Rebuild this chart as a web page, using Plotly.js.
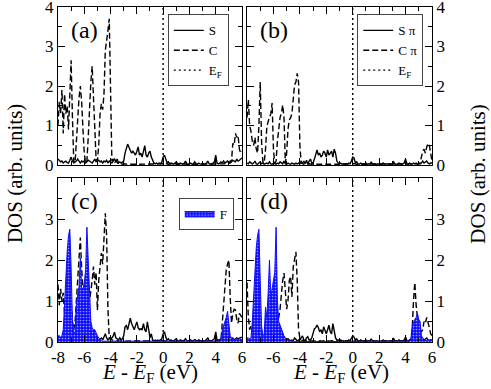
<!DOCTYPE html>
<html>
<head>
<meta charset="utf-8">
<script src="https://cdn.plot.ly/plotly-3.0.1.min.js"></script>
<style>
  html, body { margin: 0; padding: 0; background: #fff; }
  #chart { width: 491px; height: 389px; }
</style>
</head>
<body>
<div id="chart"></div>
<script>
// energy grid: -8 eV to 6 eV in 0.1 eV steps (141 points per curve)
const energyStart = -8;
const energyStep = 0.1;
const energyRange = [-8, 6];
const dosRange = [0, 4];
const fermiLevel = 0;

const xTickVals = [-8, -6, -4, -2, 0, 2, 4, 6];
const xTickText = ['-8', '-6', '-4', '-2', '0', '2', '4', '6'];
const yTickValsTop = [0, 1, 2, 3, 4];
const yTickValsBottom = [0, 1, 2, 3];

// panel (a): S and C total DOS
const dosS_a = [
  0.15,0.10,0.08,0.10,0.05,0.08,0.10,0.06,0.05,0.12,
  0.20,0.10,0.05,0.08,0.10,0.15,0.08,0.05,0.10,0.08,
  0.10,0.05,0.08,0.12,0.10,0.08,0.05,0.10,0.15,0.08,
  0.10,0.12,0.08,0.10,0.05,0.10,0.08,0.12,0.05,0.10,
  0.08,0.05,0.10,0.15,0.10,0.15,0.05,0.08,0.05,0.08,
  0.10,0.30,0.45,0.53,0.45,0.35,0.30,0.35,0.30,0.25,
  0.35,0.46,0.25,0.30,0.20,0.40,0.49,0.25,0.20,0.30,
  0.35,0.20,0.10,0.05,0.03,0.05,0.03,0.05,0.03,0.08,
  0.20,0.25,0.15,0.05,0.08,0.03,0.05,0.03,0.02,0.05,
  0.08,0.03,0.02,0.05,0.03,0.02,0.04,0.10,0.03,0.02,
  0.03,0.05,0.02,0.03,0.08,0.03,0.02,0.05,0.03,0.02,
  0.04,0.02,0.03,0.05,0.10,0.03,0.02,0.03,0.05,0.08,
  0.25,0.05,0.03,0.05,0.08,0.05,0.10,0.05,0.08,0.10,
  0.05,0.10,0.08,0.12,0.10,0.08,0.15,0.10,0.12,0.15,
  0.18
];
const dosC_a = [
  1.00,1.60,1.30,1.90,0.80,1.80,1.30,1.50,0.90,1.60,
  2.65,1.20,0.10,0.05,0.60,1.30,1.70,2.00,1.60,0.90,
  0.30,0.05,0.10,0.70,1.50,2.10,2.50,1.60,0.60,0.15,
  0.10,0.50,1.30,1.55,1.40,1.80,2.90,3.10,3.40,3.70,
  1.50,0.10,0.15,0.05,0.10,0.05,0.03,0.04,0.03,0.02,
  0.03,0.02,0.03,0.02,0.02,0.03,0.02,0.02,0.03,0.02,
  0.02,0.03,0.02,0.02,0.03,0.02,0.02,0.03,0.02,0.02,
  0.02,0.02,0.03,0.02,0.02,0.02,0.03,0.02,0.02,0.03,
  0.05,0.04,0.03,0.02,0.02,0.03,0.02,0.02,0.02,0.03,
  0.02,0.02,0.03,0.02,0.02,0.02,0.03,0.02,0.02,0.02,
  0.03,0.02,0.02,0.02,0.03,0.02,0.02,0.02,0.03,0.02,
  0.02,0.03,0.02,0.02,0.02,0.03,0.02,0.02,0.03,0.03,
  0.03,0.02,0.03,0.02,0.03,0.02,0.03,0.03,0.04,0.03,
  0.05,0.05,0.10,0.55,0.50,0.80,0.70,0.75,0.40,0.30,
  0.35
];

// panel (b): S pi and C pi
const dosS_b = [
  0.05,0.03,0.08,0.05,0.03,0.05,0.10,0.03,0.02,0.05,
  0.08,0.03,0.05,0.02,0.03,0.05,0.03,0.08,0.03,0.02,
  0.05,0.03,0.02,0.05,0.03,0.08,0.05,0.03,0.10,0.03,
  0.02,0.05,0.03,0.02,0.05,0.03,0.02,0.05,0.03,0.05,
  0.03,0.08,0.05,0.10,0.03,0.12,0.02,0.10,0.15,0.05,
  0.05,0.15,0.30,0.38,0.25,0.30,0.20,0.25,0.35,0.30,
  0.20,0.38,0.25,0.30,0.35,0.20,0.40,0.30,0.10,0.05,
  0.03,0.05,0.02,0.03,0.02,0.03,0.02,0.05,0.03,0.10,
  0.20,0.18,0.05,0.08,0.03,0.02,0.05,0.03,0.02,0.03,
  0.05,0.02,0.03,0.02,0.08,0.02,0.03,0.02,0.02,0.03,
  0.02,0.03,0.02,0.05,0.02,0.03,0.02,0.02,0.03,0.02,
  0.03,0.08,0.02,0.03,0.02,0.05,0.03,0.02,0.03,0.05,
  0.15,0.03,0.02,0.05,0.03,0.02,0.05,0.03,0.05,0.02,
  0.05,0.03,0.05,0.10,0.05,0.08,0.10,0.05,0.03,0.05,
  0.05
];
const dosC_b = [
  1.20,1.65,1.00,0.85,0.60,0.50,0.70,0.40,0.30,1.00,
  2.10,0.60,0.08,0.05,0.40,0.97,1.10,1.20,1.30,1.57,
  0.40,0.05,0.10,0.60,0.97,1.20,1.31,1.52,1.20,0.05,
  0.30,0.90,1.14,1.20,1.31,1.60,2.03,2.10,2.32,2.10,
  0.50,0.05,0.03,0.02,0.03,0.02,0.02,0.03,0.02,0.02,
  0.03,0.02,0.03,0.02,0.02,0.03,0.02,0.02,0.03,0.02,
  0.02,0.03,0.02,0.02,0.03,0.02,0.02,0.03,0.02,0.02,
  0.02,0.02,0.03,0.02,0.02,0.02,0.03,0.02,0.02,0.03,
  0.04,0.03,0.03,0.02,0.02,0.03,0.02,0.02,0.02,0.03,
  0.02,0.02,0.03,0.02,0.02,0.02,0.03,0.02,0.02,0.02,
  0.03,0.02,0.02,0.02,0.03,0.02,0.02,0.02,0.03,0.02,
  0.02,0.03,0.02,0.02,0.02,0.03,0.02,0.02,0.03,0.03,
  0.03,0.02,0.03,0.02,0.03,0.02,0.03,0.03,0.02,0.03,
  0.03,0.05,0.20,0.35,0.40,0.30,0.45,0.55,0.50,0.30,
  0.10
];

// panel (c): S, C and F
const dosS_c = [
  0.10,0.12,0.08,0.10,0.05,0.08,0.10,0.06,0.05,0.10,
  0.15,0.10,0.05,0.08,0.10,0.12,0.08,0.05,0.10,0.08,
  0.10,0.05,0.08,0.10,0.10,0.08,0.05,0.10,0.12,0.08,
  0.10,0.05,0.08,0.10,0.05,0.15,0.20,0.10,0.05,0.08,
  0.08,0.10,0.15,0.24,0.10,0.08,0.05,0.10,0.05,0.08,
  0.15,0.37,0.40,0.30,0.45,0.58,0.45,0.35,0.30,0.40,
  0.49,0.35,0.30,0.32,0.30,0.45,0.30,0.25,0.49,0.30,
  0.10,0.20,0.05,0.03,0.05,0.03,0.05,0.03,0.05,0.08,
  0.20,0.25,0.12,0.05,0.08,0.03,0.05,0.02,0.03,0.05,
  0.08,0.03,0.02,0.05,0.03,0.02,0.04,0.08,0.03,0.02,
  0.03,0.05,0.02,0.03,0.06,0.03,0.02,0.05,0.03,0.02,
  0.04,0.02,0.03,0.08,0.10,0.03,0.02,0.03,0.05,0.08,
  0.25,0.05,0.03,0.05,0.08,0.05,0.10,0.05,0.08,0.10,
  0.05,0.10,0.08,0.10,0.05,0.08,0.10,0.08,0.10,0.12,
  0.12
];
const dosC_c = [
  1.40,0.90,1.30,1.00,1.20,0.70,0.50,0.40,0.50,0.80,
  1.00,0.50,0.30,0.50,1.00,1.50,1.90,2.55,1.80,1.30,
  1.30,1.20,1.00,1.10,1.00,1.20,1.50,1.84,1.40,1.70,
  0.78,1.50,1.84,2.17,1.90,2.57,3.14,2.60,0.80,0.10,
  0.10,0.05,0.03,0.03,0.02,0.03,0.02,0.02,0.03,0.02,
  0.03,0.02,0.03,0.02,0.02,0.03,0.02,0.02,0.03,0.02,
  0.02,0.03,0.02,0.02,0.03,0.02,0.02,0.03,0.02,0.02,
  0.02,0.02,0.03,0.02,0.02,0.02,0.03,0.02,0.02,0.03,
  0.04,0.03,0.03,0.02,0.02,0.03,0.02,0.02,0.02,0.03,
  0.02,0.02,0.03,0.02,0.02,0.02,0.03,0.02,0.02,0.02,
  0.03,0.02,0.02,0.02,0.03,0.02,0.02,0.02,0.03,0.02,
  0.02,0.03,0.02,0.02,0.02,0.03,0.02,0.02,0.03,0.03,
  0.05,0.03,0.05,0.03,0.05,0.50,1.10,1.43,1.76,1.90,
  2.00,1.10,0.46,0.70,0.80,0.78,0.55,0.46,0.70,0.65,
  0.60
];
const dosF_c = [
  0.15,0.15,0.12,0.15,0.30,1.00,1.80,2.20,2.60,2.75,
  1.80,0.50,0.20,0.25,0.95,1.20,1.35,2.05,1.30,1.30,
  1.44,1.75,2.80,2.00,1.20,0.50,0.35,0.30,0.30,0.20,
  0.15,0.10,0.05,0.03,0.02,0.02,0.01,0.01,0.01,0.01,
  0.01,0.01,0.01,0.01,0.01,0.01,0.01,0.01,0.01,0.01,
  0.01,0.01,0.01,0.01,0.01,0.01,0.01,0.01,0.01,0.01,
  0.01,0.01,0.01,0.01,0.01,0.01,0.01,0.01,0.01,0.01,
  0.01,0.01,0.01,0.01,0.01,0.01,0.01,0.01,0.01,0.01,
  0.01,0.01,0.01,0.01,0.01,0.01,0.01,0.01,0.01,0.01,
  0.01,0.01,0.01,0.01,0.01,0.01,0.01,0.01,0.01,0.01,
  0.01,0.01,0.01,0.01,0.01,0.01,0.01,0.01,0.01,0.01,
  0.01,0.01,0.01,0.01,0.01,0.01,0.01,0.01,0.01,0.01,
  0.02,0.02,0.02,0.03,0.05,0.30,0.40,0.45,0.60,0.75,
  0.50,0.15,0.10,0.08,0.06,0.05,0.08,0.06,0.05,0.08,
  0.05
];

// panel (d): S, C and F
const dosS_d = [
  0.05,0.03,0.05,0.03,0.05,0.08,0.05,0.03,0.05,0.05,
  0.05,0.05,0.08,0.03,0.05,0.03,0.05,0.05,0.03,0.05,
  0.03,0.05,0.03,0.05,0.03,0.05,0.08,0.05,0.05,0.03,
  0.05,0.08,0.05,0.03,0.05,0.03,0.10,0.05,0.03,0.05,
  0.05,0.10,0.15,0.05,0.03,0.10,0.13,0.05,0.05,0.10,
  0.20,0.32,0.35,0.41,0.35,0.25,0.30,0.20,0.37,0.25,
  0.20,0.30,0.41,0.25,0.20,0.45,0.30,0.10,0.05,0.05,
  0.03,0.05,0.02,0.03,0.02,0.03,0.02,0.05,0.03,0.08,
  0.15,0.12,0.05,0.08,0.03,0.02,0.05,0.03,0.02,0.03,
  0.05,0.02,0.03,0.02,0.08,0.02,0.03,0.02,0.02,0.03,
  0.02,0.03,0.02,0.05,0.02,0.03,0.02,0.02,0.03,0.02,
  0.03,0.08,0.02,0.03,0.02,0.05,0.03,0.02,0.03,0.05,
  0.12,0.03,0.02,0.05,0.03,0.02,0.05,0.03,0.05,0.02,
  0.05,0.03,0.05,0.08,0.05,0.08,0.10,0.05,0.03,0.05,
  0.05
];
const dosC_d = [
  1.45,0.60,0.30,0.40,0.30,0.20,0.20,0.30,0.20,0.30,
  0.30,0.15,0.10,0.15,0.30,0.40,0.50,0.60,0.50,0.50,
  0.50,0.40,0.40,0.50,0.60,0.80,1.20,1.50,1.68,1.20,
  0.80,1.00,1.50,1.60,1.10,1.84,2.05,2.20,1.50,0.30,
  0.10,0.05,0.03,0.03,0.02,0.03,0.02,0.02,0.03,0.02,
  0.03,0.02,0.03,0.02,0.02,0.03,0.02,0.02,0.03,0.02,
  0.02,0.03,0.02,0.02,0.03,0.02,0.02,0.03,0.02,0.02,
  0.02,0.02,0.03,0.02,0.02,0.02,0.03,0.02,0.02,0.03,
  0.04,0.03,0.03,0.02,0.02,0.03,0.02,0.02,0.02,0.03,
  0.02,0.02,0.03,0.02,0.02,0.02,0.03,0.02,0.02,0.02,
  0.03,0.02,0.02,0.02,0.03,0.02,0.02,0.02,0.03,0.02,
  0.02,0.03,0.02,0.02,0.02,0.03,0.02,0.02,0.03,0.03,
  0.03,0.05,0.03,0.02,0.05,0.30,1.00,1.45,0.90,0.60,
  0.50,0.30,0.25,0.30,0.50,0.45,0.60,0.50,0.35,0.20,
  0.15
];
const dosF_d = [
  0.10,0.10,0.08,0.10,0.50,1.20,1.80,2.30,2.60,2.75,
  1.50,0.40,0.15,0.20,0.85,0.60,1.20,2.00,1.10,1.30,
  1.50,1.70,2.80,1.00,0.50,0.40,0.30,0.20,0.15,0.10,
  0.08,0.05,0.03,0.02,0.02,0.01,0.01,0.01,0.01,0.01,
  0.01,0.01,0.01,0.01,0.01,0.01,0.01,0.01,0.01,0.01,
  0.01,0.01,0.01,0.01,0.01,0.01,0.01,0.01,0.01,0.01,
  0.01,0.01,0.01,0.01,0.01,0.01,0.01,0.01,0.01,0.01,
  0.01,0.01,0.01,0.01,0.01,0.01,0.01,0.01,0.01,0.01,
  0.01,0.01,0.01,0.01,0.01,0.01,0.01,0.01,0.01,0.01,
  0.01,0.01,0.01,0.01,0.01,0.01,0.01,0.01,0.01,0.01,
  0.01,0.01,0.01,0.01,0.01,0.01,0.01,0.01,0.01,0.01,
  0.01,0.01,0.01,0.01,0.01,0.01,0.01,0.01,0.01,0.01,
  0.02,0.02,0.02,0.03,0.05,0.40,0.50,0.55,0.60,0.70,
  0.55,0.50,0.15,0.08,0.05,0.05,0.04,0.05,0.05,0.06,
  0.05
];

const serif = 'Liberation Serif, Times New Roman, serif';

function dosLine( values, axes, dash, name, legend, showlegend ) {
  return {
    type: 'scatter', mode: 'lines',
    x0: energyStart, dx: energyStep, y: values,
    xaxis: axes[0], yaxis: axes[1],
    name: name, legend: legend, showlegend: showlegend,
    line: { color: '#000', width: 1.4, dash: dash }
  };
}

function fluorineFill( values, axes, showlegend ) {
  return {
    type: 'scatter', mode: 'lines',
    x0: energyStart, dx: energyStep, y: values,
    xaxis: axes[0], yaxis: axes[1],
    name: 'F', legend: 'legend3', showlegend: showlegend,
    fill: 'tozeroy', fillcolor: '#0c0cff',
    fillpattern: { shape: '.', bgcolor: '#0c0cff', fgcolor: '#9a9aff', size: 3, solidity: 0.25 },
    line: { color: '#0c0cff', width: 1 }
  };
}

function fermiLine( axes, legend, showlegend ) {
  return {
    type: 'scatter', mode: 'lines',
    x: [fermiLevel, fermiLevel], y: dosRange,
    xaxis: axes[0], yaxis: axes[1],
    name: 'E<sub>F</sub>', legend: legend, showlegend: showlegend,
    line: { color: '#000', width: 1.4, dash: '2px,3px' }
  };
}

const dashC = '6px,3px';
const data = [
  dosLine( dosS_a, ['x', 'y'], 'solid', 'S', 'legend', true ),
  dosLine( dosC_a, ['x', 'y'], dashC, 'C', 'legend', true ),
  fermiLine( ['x', 'y'], 'legend', true ),

  dosLine( dosS_b, ['x2', 'y2'], 'solid', 'S \u03c0', 'legend2', true ),
  dosLine( dosC_b, ['x2', 'y2'], dashC, 'C \u03c0', 'legend2', true ),
  fermiLine( ['x2', 'y2'], 'legend2', true ),

  dosLine( dosS_c, ['x3', 'y3'], 'solid', 'S', 'legend3', false ),
  dosLine( dosC_c, ['x3', 'y3'], dashC, 'C', 'legend3', false ),
  fermiLine( ['x3', 'y3'], 'legend3', false ),
  fluorineFill( dosF_c, ['x3', 'y3'], true ),

  dosLine( dosS_d, ['x4', 'y4'], 'solid', 'S', 'legend3', false ),
  dosLine( dosC_d, ['x4', 'y4'], dashC, 'C', 'legend3', false ),
  fermiLine( ['x4', 'y4'], 'legend3', false ),
  fluorineFill( dosF_d, ['x4', 'y4'], false )
];

const tickFont = { family: serif, size: 17, color: '#000' };

function axisBase() {
  return {
    ticks: 'inside', ticklen: 7, tickwidth: 1, tickcolor: '#000',
    mirror: 'ticks', showline: true, linecolor: '#000', linewidth: 1,
    showgrid: false, zeroline: false, automargin: false,
    ticklabeloverflow: 'allow', tickfont: tickFont
  };
}

function makeXAxis( domain, anchor, showLabels, first ) {
  const axis = axisBase();
  axis.domain = domain;
  axis.anchor = anchor;
  axis.range = energyRange;
  axis.tickmode = 'array';
  axis.tickvals = xTickVals.slice(first);
  axis.ticktext = xTickText.slice(first);
  axis.showticklabels = showLabels;
  axis.minor = { ticks: 'inside', ticklen: 4, tickcolor: '#000', dtick: 1, tick0: 0 };
  return axis;
}

function makeYAxis( domain, anchor, side, tickVals ) {
  const axis = axisBase();
  axis.domain = domain;
  axis.anchor = anchor;
  axis.side = side;
  axis.range = dosRange;
  axis.tickmode = 'array';
  axis.tickvals = tickVals;
  axis.ticktext = tickVals.map( v => String(v) );
  axis.minor = { ticks: 'inside', ticklen: 4, tickcolor: '#000', dtick: 0.5, tick0: 0 };
  return axis;
}

const leftDomain = [0.1181, 0.4929];
const rightDomain = [0.5031, 0.8798];
const topDomain = [0.5758, 0.9820];
const bottomDomain = [0.1208, 0.5424];

function panelLabel( text, xref, yref ) {
  return { text: text, xref: xref, yref: yref, x: 0.06, y: 0.95,
           xanchor: 'left', yanchor: 'top', showarrow: false,
           font: { family: serif, size: 24, color: '#000' } };
}

const legendBase = {
  bgcolor: '#fff', bordercolor: '#444', borderwidth: 1,
  font: { family: serif, size: 13, color: '#000' },
  itemwidth: 30, xanchor: 'right', yanchor: 'top', tracegroupgap: 0
};

const titleFont = { family: serif, size: 21, color: '#000' };
const yTitle = 'DOS (arb. units)';
const xTitle = '<i>E</i> - <i>E</i><sub>F</sub> (eV)';

function titleNote( text, x, y, angle ) {
  return { text: text, xref: 'paper', yref: 'paper', x: x, y: y, textangle: angle,
           xanchor: 'center', yanchor: 'middle', showarrow: false, font: titleFont };
}

const layout = {
  width: 491, height: 389,
  margin: { l: 0, r: 0, t: 0, b: 0 },
  paper_bgcolor: '#fff', plot_bgcolor: '#fff',
  font: { family: serif, color: '#000' },
  xaxis: makeXAxis( leftDomain, 'y', false, 0 ),
  yaxis: makeYAxis( topDomain, 'x', 'left', yTickValsTop ),
  xaxis2: makeXAxis( rightDomain, 'y2', false, 0 ),
  yaxis2: makeYAxis( topDomain, 'x2', 'right', yTickValsTop ),
  xaxis3: makeXAxis( leftDomain, 'y3', true, 0 ),
  yaxis3: makeYAxis( bottomDomain, 'x3', 'left', yTickValsBottom ),
  xaxis4: makeXAxis( rightDomain, 'y4', true, 1 ),
  yaxis4: makeYAxis( bottomDomain, 'x4', 'right', yTickValsBottom ),
  legend: Object.assign( {}, legendBase, { x: 0.466, y: 0.963 } ),
  legend2: Object.assign( {}, legendBase, { x: 0.862, y: 0.963 } ),
  legend3: Object.assign( {}, legendBase, { x: 0.476, y: 0.492 } ),
  annotations: [
    panelLabel( '(a)', 'x domain', 'y domain' ),
    panelLabel( '(b)', 'x2 domain', 'y2 domain' ),
    panelLabel( '(c)', 'x3 domain', 'y3 domain' ),
    panelLabel( '(d)', 'x4 domain', 'y4 domain' ),
    titleNote( yTitle, 0.031, 0.553, -90 ),
    titleNote( yTitle, 0.973, 0.553, -90 ),
    titleNote( xTitle, 0.3055, 0.042, 0 ),
    titleNote( xTitle, 0.6945, 0.042, 0 )
  ]
};

Plotly.newPlot( 'chart', data, layout, { staticPlot: true, displayModeBar: false } );
</script>
</body>
</html>
